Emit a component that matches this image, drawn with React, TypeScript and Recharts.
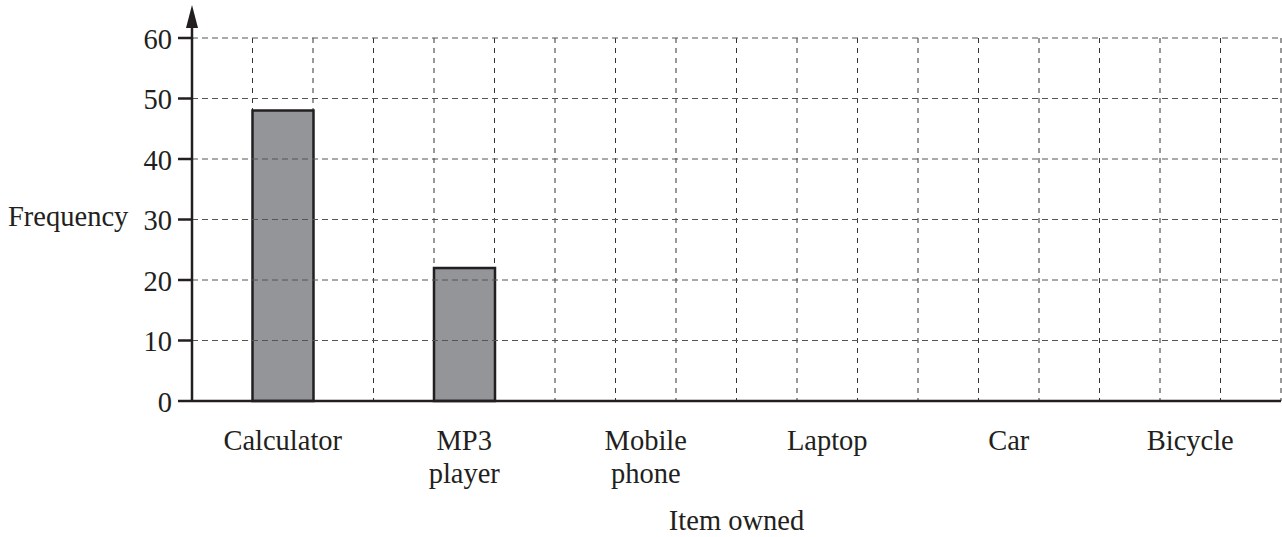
import { Bar, BarChart, CartesianGrid, ReferenceLine, XAxis, YAxis } from 'recharts'

const items = ['Calculator', 'MP3\nplayer', 'Mobile\nphone', 'Laptop', 'Car', 'Bicycle']
const frequency: (number | null)[] = [48, 22, null, null, null, null]
const yTicks = [0, 10, 20, 30, 40, 50, 60]

const W = 1282
const H = 537
const YAXIS_W = 192
const TOP = 38
const INK = '#231f20'
const FONT = 'Liberation Serif, DejaVu Serif, serif'
const FS = 28.5

const rows = items.map((item, i) => ({ item, freq: frequency[i] }))

function ItemTick({ x, y, payload }: any) {
  const lines = String(payload.value).split('\n')
  return (
    <text x={x} y={y} textAnchor="middle" fill={INK} fontSize={FS} style={{ fontFamily: FONT }}>
      {lines.map((l, i) => (
        <tspan key={i} x={x} y={y + 49 + i * 33}>
          {l}
        </tspan>
      ))}
    </text>
  )
}

function ValueTick({ x, y, payload }: any) {
  return (
    <text x={x} y={y + 10.5} textAnchor="end" fill={INK} fontSize={FS} style={{ fontFamily: FONT }}>
      {payload.value}
    </text>
  )
}

export default function App() {
  return (
    <div
      style={{
        position: 'absolute',
        left: 0,
        top: 0,
        width: W,
        height: H,
        background: '#fff',
        fontFamily: FONT,
      }}
    >
      <BarChart
        width={W}
        height={H}
        data={rows}
        margin={{ top: TOP, right: 1, left: 0, bottom: 0 }}
        barCategoryGap="33.333%"
      >
        <CartesianGrid
          horizontal={false}
          stroke="#333"
          strokeDasharray="5 5"
          verticalCoordinatesGenerator={({ offset }: any) =>
            Array.from({ length: 19 }, (_, i) => offset.left + (i * offset.width) / 18)
          }
        />
        <XAxis
          dataKey="item"
          height={136}
          tickLine={false}
          tickSize={0}
          tickMargin={0}
          axisLine={{ stroke: INK, strokeWidth: 2.5 }}
          tick={<ItemTick />}
          interval={0}
          label={{
            content: ({ viewBox }: any) => (
              <text
                x={viewBox.x + viewBox.width / 2}
                y={viewBox.y + 129}
                textAnchor="middle"
                fill={INK}
                fontSize={FS}
                style={{ fontFamily: FONT }}
              >
                Item owned
              </text>
            ),
          }}
        />
        <YAxis
          width={YAXIS_W}
          domain={[0, 60]}
          ticks={yTicks}
          interval={0}
          tickSize={14}
          tickMargin={6}
          tickLine={{ stroke: INK, strokeWidth: 2.5 }}
          axisLine={{ stroke: INK, strokeWidth: 2.5 }}
          tick={<ValueTick />}
          label={{
            content: ({ viewBox }: any) => (
              <text
                x={viewBox.x + 8}
                y={viewBox.y + viewBox.height / 2 + 6.5}
                fill={INK}
                fontSize={FS}
                style={{ fontFamily: FONT }}
              >
                Frequency
              </text>
            ),
          }}
        />
        <Bar
          dataKey="freq"
          fill="#939598"
          stroke={INK}
          strokeWidth={2.5}
          isAnimationActive={false}
        />
        {yTicks
          .filter((t) => t > 0)
          .map((t) => (
            <ReferenceLine key={t} y={t} stroke="#555" strokeDasharray="6 4" />
          ))}
      </BarChart>
      <svg
        width={W}
        height={H}
        style={{ position: 'absolute', left: 0, top: 0, pointerEvents: 'none' }}
      >
        <line x1={YAXIS_W} y1={TOP + 1} x2={YAXIS_W} y2={24} stroke={INK} strokeWidth={2.5} />
        <polygon
          points={`${YAXIS_W},5 ${YAXIS_W - 6},28 ${YAXIS_W + 6},28`}
          fill={INK}
        />
      </svg>
    </div>
  )
}
